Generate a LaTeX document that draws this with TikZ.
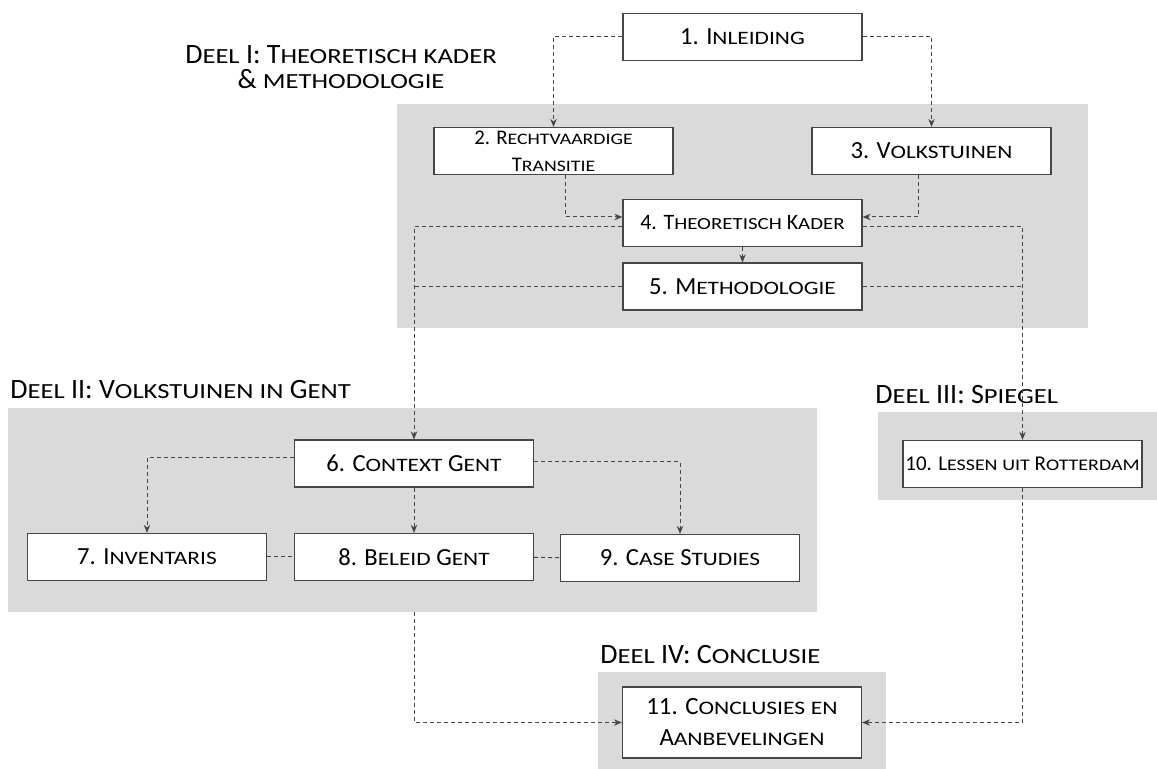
\documentclass[tikz,border=0pt]{standalone}
\usepackage{fontspec}
\usepackage{graphicx}
\setmainfont{Carlito}
\usetikzlibrary{positioning,arrows.meta}
\definecolor{deelgrey}{RGB}{218,218,218}
\definecolor{lijngrey}{RGB}{70,70,70}
% small capitals by hand (the font has none)
\newcommand\kksmall[1]{\scalebox{0.95}[0.77]{\MakeUppercase{#1}}}
\ExplSyntaxOn
\tl_new:N \l_kk_tl
\NewDocumentCommand \kk { m }
  {
    \tl_set:Nn \l_kk_tl {#1}
    \regex_replace_all:nnN { ([a-z]+) } { \c{kksmall} \cB\{ \1 \cE\} } \l_kk_tl
    \tl_use:N \l_kk_tl
  }
\ExplSyntaxOff

\begin{document}
\begin{tikzpicture}[x=0.5pt,y=-0.5pt,>={Stealth[length=4pt,width=3.2pt]},
    hoofdstuk/.style={draw=lijngrey,line width=0.6pt,fill=white,minimum width=119.5pt,
      minimum height=23.5pt,inner sep=1pt,align=center,font=\fontsize{12.3}{15}\selectfont},
    deel/.style={fill=deelgrey,inner sep=0pt},
    deeltitel/.style={inner sep=0pt,align=center,font=\fontsize{14}{12.5}\selectfont},
    lijn/.style={draw=lijngrey,line width=0.5pt,dash pattern=on 2pt off 1.5pt},
    pijl/.style={lijn,->}]
    \useasboundingbox (0,0) rectangle (1157,769);
    % ------------------------------------------------------------------
    %                         GREY PARTS
    % ------------------------------------------------------------------
    \node[deel,minimum width=345.5pt,minimum height=112pt]  (g1) at (742.5,216) {};
    \node[deel,minimum width=404.5pt,minimum height=102pt]  (g2) at (412.5,510) {};
    \node[deel,minimum width=139.5pt,minimum height=44pt]   (g3) at (1017.5,456) {};
    \node[deel,minimum width=144pt,minimum height=48.5pt]   (g4) at (742,720.5) {};
    % titles
    \node[deeltitel]             (t1) at (341,67)  {\kk{Deel I: Theoretisch kader}\\ \kk{\& methodologie}};
    \node[deeltitel,anchor=west] (t2) at (10,390)  {\kk{Deel II: Volkstuinen in Gent}};
    \node[deeltitel,anchor=west] (t3) at (875,395) {\kk{Deel III: Spiegel}};
    \node[deeltitel,anchor=west] (t4) at (600,655) {\kk{Deel IV: Conclusie}};
    % ------------------------------------------------------------------
    %                           CHAPTERS
    % ------------------------------------------------------------------
    % part I
    \node[hoofdstuk] (n1) at (742.5,37)  {\kk{1. Inleiding}};
    \node[hoofdstuk,font=\fontsize{10.4}{13.5}\selectfont]
                     (n2) at (553.5,151) {\kk{2. Rechtvaardige}\\\kk{Transitie}};
    \node[hoofdstuk] (n3) at (931.5,151) {\kk{3. Volkstuinen}};
    \node[hoofdstuk,font=\fontsize{11}{13}\selectfont]
                     (n4) at (742.5,223) {\kk{4. Theoretisch Kader}};
    \node[hoofdstuk] (n5) at (742.5,286.5) {\kk{5. Methodologie}};
    % part II
    \node[hoofdstuk] (n6) at (414,463.5) {\kk{6. Context Gent}};
    \node[hoofdstuk] (n7) at (147,557)   {\kk{7. Inventaris}};
    \node[hoofdstuk] (n8) at (414,557)   {\kk{8. Beleid Gent}};
    \node[hoofdstuk] (n9) at (680,558)   {\kk{9. Case Studies}};
    % part III
    \node[hoofdstuk,font=\fontsize{10.5}{13}\selectfont]
                     (n10) at (1022.5,464) {\kk{10. Lessen uit Rotterdam}};
    % part IV
    \node[hoofdstuk,minimum height=35.5pt,font=\fontsize{12.4}{15.5}\selectfont]
                     (n11) at (742,722.5) {\kk{11. Conclusies en}\\\kk{Aanbevelingen}};
    % ------------------------------------------------------------------
    %                          CONNECTORS
    % ------------------------------------------------------------------
    \draw[pijl] (n1.west) -| (n2.north);
    \draw[pijl] (n1.east) -| (n3.north);
    \draw[pijl] ([xshift=6pt]n2.south) |- ([yshift=3pt]n4.west);
    \draw[pijl] ([xshift=-6.5pt]n3.south) |- ([yshift=3pt]n4.east);
    \draw[pijl] (n4) -- (n5);
    % towards part II and III
    \draw[pijl] ([yshift=-2pt]n4.west) -| (n6.north);
    \draw[lijn] (n5.west) -- (n6.north |- n5.west);
    \draw[pijl] ([yshift=-2pt]n4.east) -| (n10.north);
    \draw[lijn] (n5.east) -- (n10.north |- n5.east);
    % inside part II
    \draw[pijl] ([yshift=3pt]n6.west) -| (n7.north);
    \draw[pijl] ([yshift=1pt]n6.east) -| (n9.north);
    \draw[pijl] (n6) -- (n8);
    \draw[lijn] (n7) -- (n8);
    \draw[lijn] (n8) -- (n9);
    % towards part IV
    \draw[pijl] (g2.south -| n8.south) |- (n11.west);
    \draw[pijl] (n10.south) |- (n11.east);
\end{tikzpicture}
\end{document}
